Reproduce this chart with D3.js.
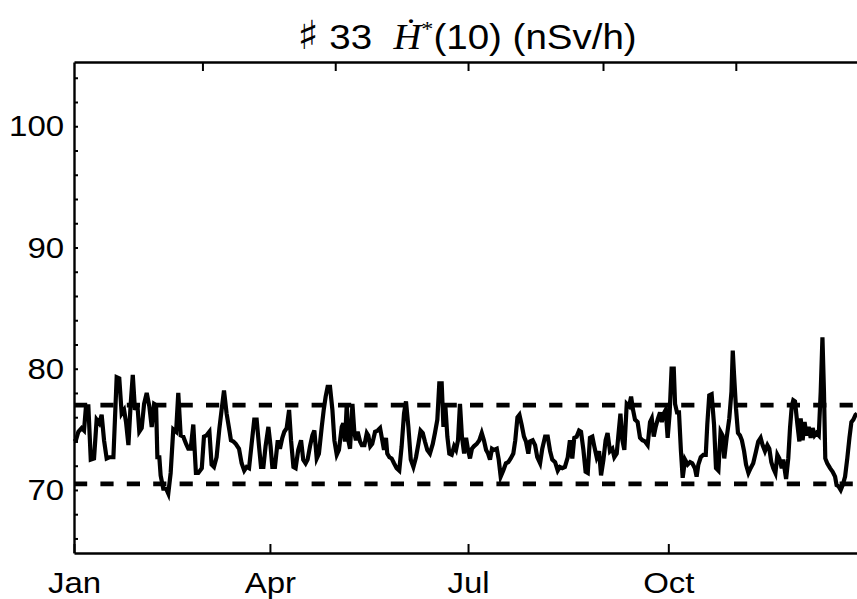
<!DOCTYPE html>
<html>
<head>
<meta charset="utf-8">
<script src="https://cdn.jsdelivr.net/npm/d3@7"></script>
<style>
  body { margin: 0; background: #fff; }
  text { font-family: "Liberation Sans", Arial, sans-serif; fill: #000; }
</style>
</head>
<body>
<svg id="chart" width="857" height="599"></svg>
<script>
// [day of year, dose rate nSv/h]
const readings = [
  [0,74.0],[0.9,74.1],[2.0,74.8],[3.5,75.1],[4.6,74.9],[5.5,76.9],[6.6,76.9],[7.7,72.5],[9.2,72.6],[10.4,75.8],
  [11.6,75.5],[12.7,76.2],[13.8,74.1],[15.0,72.6],[16.2,72.7],[18.1,72.7],[19.6,79.3],[20.8,79.2],[21.9,76.3],[23.0,76.6],
  [23.9,75.6],[25.0,73.7],[26.0,77.0],[27.0,79.5],[28.0,76.6],[29.1,77.1],[30.0,74.8],[31.1,75.1],[32.2,77.1],[33.4,78.0],
  [34.6,76.9],[35.7,75.2],[36.8,77.1],[37.7,77.0],[38.3,72.7],[39.2,72.7],[39.8,71.2],[41.0,70.1],[42.3,70.1],[43.3,69.7],
  [44.4,71.4],[45.6,75.0],[46.9,74.8],[47.9,78.0],[49.0,74.5],[50.2,74.4],[51.5,73.8],[52.5,73.4],[53.6,73.4],[54.8,75.4],
  [56.0,71.4],[57.1,71.4],[58.7,71.8],[59.7,74.4],[60.9,74.5],[62.2,74.8],[63.2,72.1],[64.3,71.9],[65.5,72.7],[66.8,75.1],
  [67.8,76.6],[68.9,78.2],[70.1,76.3],[71.4,74.9],
  [72.1,74.1],[73.2,74.0],[74.3,73.8],[75.8,73.4],[77.0,72.2],[78.2,71.6],[79.3,71.9],[80.4,71.8],[81.6,73.8],[82.8,75.8],
  [83.9,75.8],[85.0,73.6],[85.9,71.9],[87.0,71.9],[88.0,73.6],[89.3,75.2],[90.3,73.6],[91.1,71.9],[92.3,71.9],[93.6,74.1],
  [94.6,73.4],[95.7,74.3],[96.6,74.8],[97.7,75.1],[98.8,76.6],[99.7,74.1],[100.8,71.9],[101.8,71.8],[103.0,73.3],[104.3,74.1],
  [105.3,72.5],[106.4,72.2],[107.3,72.5],[108.4,73.6],[109.5,74.5],[110.4,74.9],[111.5,72.6],[112.5,73.0],[113.8,75.2],[114.7,76.6],
  [115.6,77.7],[116.5,78.5],[117.6,78.5],[118.7,76.6],[119.6,74.1],[120.7,72.9],[121.7,73.3],[123.0,75.2],[123.7,75.5],[124.5,74.0],
  [125.3,77.1],[126.0,74.1],[126.8,73.4],[127.9,77.1],[128.8,74.7],[129.5,74.1],[130.3,74.8],[131.4,74.0],[132.2,73.7],[133.4,73.7],
  [134.5,74.7],[135.2,74.5],[136.1,73.6],[137.0,73.8],[138.3,74.8],[139.5,74.9],[140.6,75.1],[141.6,74.1],
  [142.4,73.3],[143.3,74.3],[143.9,73.0],[144.9,72.7],[145.9,72.6],[147.0,72.2],[148.2,71.8],[149.4,71.6],[150.5,73.6],[151.6,76.3],
  [152.5,77.3],[153.6,75.2],[154.7,72.5],[155.9,71.9],[157.1,72.7],[158.2,73.8],[159.2,74.9],[160.2,74.7],[161.2,74.0],[162.3,73.3],
  [163.5,73.0],[164.8,73.8],[165.8,74.7],[166.9,75.8],[167.8,78.8],[168.9,78.8],[169.7,75.2],[170.6,76.9],[171.5,74.4],[172.4,73.0],
  [173.5,72.9],[174.6,73.6],[175.5,73.3],[176.4,74.1],[177.3,77.1],[178.2,74.4],[179.2,73.0],[180.1,74.3],[181.0,73.3],[181.9,72.6],
  [182.8,73.4],[183.7,73.6],[185.0,73.8],[186.2,74.1],[187.3,74.7],[188.3,74.1],[189.3,73.3],[190.2,73.0],[191.1,72.5],[192.0,73.4],
  [192.9,73.3],[194.2,73.4],[195.1,72.5],[196.0,71.1],[197.2,71.6],[198.4,72.2],[199.5,72.3],[200.6,72.6],[201.8,73.0],[202.7,74.1],
  [203.7,76.0],[204.6,76.2],[205.6,75.4],[206.7,74.4],[207.6,74.0],[208.7,73.0],[209.5,74.0],[210.7,74.1],[211.8,73.7],[212.8,72.7],
  [214.1,72.2],[215.1,73.4],[216.4,74.4],[217.6,74.4],[218.7,73.2],[219.7,72.5],[221.0,72.3],[222.2,71.6],[223.2,71.9],[224.3,71.8],
  [225.5,71.9],[226.8,72.7],[227.8,74.1],[228.9,72.6],[229.8,74.3],[230.9,74.4],[232.0,74.9],[232.9,74.8],[234.0,73.3],[235.0,71.5],
  [236.0,71.4],[237.0,74.3],[238.1,74.4],[239.0,73.6],[240.1,72.7],[241.2,73.2],[242.1,71.2],[243.2,72.5],[244.2,74.1],[245.1,74.7],
  [246.2,73.2],[247.3,73.4],[248.2,72.7],[249.3,73.0],[250.0,74.4],[251.0,76.3],[251.9,74.1],[252.8,73.3],[253.9,77.1],[255.0,76.9],
  [255.9,77.7],[256.8,76.6],[257.7,75.8],[258.9,75.6],[260.0,74.3],[261.1,74.1],[262.3,74.0],[263.5,73.7],[264.6,75.6],[265.4,75.9],
  [266.3,74.4],[267.2,75.2],[268.1,75.8],[269.2,76.4],[270.0,75.6],[270.9,76.3],[271.8,76.6],[272.7,74.3],[273.6,76.3],[274.5,80.0],
  [275.5,80.0],[276.1,77.1],[277.0,76.4],[277.9,76.4],[278.8,73.2],[279.6,71.0],[280.7,72.5],[281.9,72.1],[283.0,72.3],[284.0,72.2],
  [285.2,71.8],[286.0,71.1],[286.8,72.1],[287.9,72.7],[289.1,72.9],[290.2,72.9],[290.9,75.4],[291.8,77.8],[292.9,77.9],[294.0,75.4],
  [294.9,71.8],[296.0,71.6],[297.0,74.8],[297.9,74.5],[298.7,72.6],[299.8,74.3],[301.0,75.9],[302.0,78.1],[302.6,81.5],[303.2,79.5],
  [304.1,76.7],[305.0,74.7],[305.9,74.5],[306.8,74.1],[307.8,73.2],[308.7,72.1],[309.8,71.4],[310.8,71.8],[312.0,72.2],[313.3,73.2],
  [314.3,74.0],[315.4,74.3],[316.3,73.7],[317.4,73.2],[318.5,73.7],[319.4,73.4],[320.3,72.3],[321.2,71.8],[322.2,71.4],[323.1,72.9],
  [324.0,72.6],[325.1,71.8],[325.8,72.5],[327.1,70.9],[328.1,72.6],[328.9,75.1],[329.7,76.9],[330.4,77.4],[331.2,77.3],[332.3,75.4],
  [333.2,74.0],[333.8,75.9],[334.7,74.1],[335.6,75.6],[336.5,74.5],[337.5,75.2],[338.4,74.3],[339.3,75.1],[340.2,74.5],[341.1,74.7],
  [342.1,74.5],[343.0,78.1],[343.8,82.6],[344.5,78.1],[345.1,72.6],[346.0,72.2],[347.3,71.8],[348.5,71.5],[349.6,71.1],[350.3,70.4],
  [351.2,70.3],[352.2,70.0],[353.1,70.4],[354.2,71.1],[355.2,72.6],[356.2,74.3],[357.1,75.6],[358.0,75.8],[359.0,76.2],[359.7,76.3]
];

const refLevels = [77.0, 70.5];
const yLabelValues = [70, 80, 90, 100];
const yMinorTicks = d3.range(66, 105, 2);
const bottomMonths = [0, 3, 6, 9];      // Jan Apr Jul Oct
const topMonths = [2, 4, 6, 8, 10];     // Mar May Jul Sep Nov
const year = 2013;

const svg = d3.select('#chart');
const plotLeft = 74, plotRight = 868.6, plotTop = 62, plotBottom = 553;
const textStretch = 'scale(1.1,1)';   // glyphs in the original are a bit wide

const start = new Date(year, 0, 1);
const toDate = day => new Date(start.getTime() + day * 864e5);

const x = d3.scaleTime()
    .domain([start, new Date(year + 1, 0, 1)])
    .range([plotLeft, plotRight]);

const y = d3.scaleLinear()
    .domain([64.8, 105.3])
    .range([plotBottom, plotTop]);

// dashed reference levels
svg.append('g')
    .selectAll('line')
    .data(refLevels)
    .enter()
    .append('line')
    .attr('x1', plotLeft)
    .attr('x2', plotRight)
    .attr('y1', d => y(d))
    .attr('y2', d => y(d))
    .attr('stroke', '#000')
    .attr('stroke-width', 4.8)
    .attr('stroke-dasharray', '13.2 13.2');

// the series
const line = d3.line()
    .x(d => x(toDate(d[0])))
    .y(d => y(d[1]));

svg.append('path')
    .datum(readings)
    .attr('fill', 'none')
    .attr('stroke', '#000')
    .attr('stroke-width', 4.2)
    .attr('d', line);

// frame: bottom
const xAxis = svg.append('g')
    .attr('transform', `translate(0,${plotBottom})`)
    .call(d3.axisBottom(x)
        .tickValues(bottomMonths.map(m => new Date(year, m, 1)))
        .tickSizeInner(-9).tickSizeOuter(0).tickPadding(19)
        .tickFormat(d3.timeFormat('%b')));

// frame: top
const topAxis = svg.append('g')
    .attr('transform', `translate(0,${plotTop})`)
    .call(d3.axisTop(x)
        .tickValues(topMonths.map(m => new Date(year, m, 1)))
        .tickSizeInner(-9).tickSizeOuter(0)
        .tickFormat(''));

// frame: left
const yAxis = svg.append('g')
    .attr('transform', `translate(${plotLeft},0)`)
    .call(d3.axisLeft(y)
        .tickValues(yMinorTicks)
        .tickSizeInner(-4).tickSizeOuter(0).tickPadding(9)
        .tickFormat(d => yLabelValues.includes(d) ? d : ''));

[xAxis, topAxis, yAxis].forEach(g => {
    g.select('.domain').attr('stroke', '#000').attr('stroke-width', 2.4);
    g.selectAll('.tick line').attr('stroke', '#000').attr('stroke-width', 2);
    g.selectAll('.tick text')
        .style('font-family', '"Liberation Sans", Arial, sans-serif')
        .style('font-size', '30px')
        .attr('transform', textStretch)
        .attr('fill', '#000');
});

// title
const title = svg.append('g')
    .attr('transform', `translate(467,49) ${textStretch}`)
    .append('text')
    .attr('text-anchor', 'middle')
    .style('font-size', '35px');

title.append('tspan')
    .style('font-family', '"DejaVu Sans", sans-serif')
    .style('font-size', '40px')
    .text('\u266F');
title.append('tspan').text('\u00a033\u00a0\u00a0');
title.append('tspan')
    .style('font-family', '"Liberation Serif", "DejaVu Serif", serif')
    .style('font-style', 'italic')
    .text('\u1E22');
title.append('tspan')
    .style('font-family', '"Liberation Serif", "DejaVu Serif", serif')
    .style('font-size', '22px')
    .attr('dy', -13)
    .text('*');
title.append('tspan')
    .attr('dy', 13)
    .text('(10) (nSv/h)');
</script>
</body>
</html>
